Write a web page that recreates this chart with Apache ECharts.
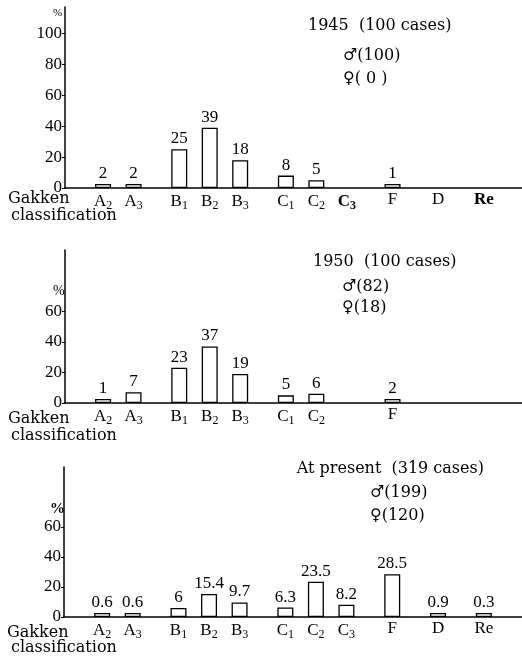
<!DOCTYPE html>
<html><head><meta charset="utf-8">
<script src="https://cdn.jsdelivr.net/npm/echarts@6/dist/echarts.min.js"></script>
<style>html,body{margin:0;padding:0;background:#fff}#c{width:522px;height:660px}</style>
</head><body><div id="c"></div><script>
// ---- data ----
const classGroups = [['A2','A3'],['B1','B2','B3'],['C1','C2','C3'],['F'],['D'],['Re']];
const cats = ['A2','A3','B1','B2','B3','C1','C2','C3','F','D','Re'];
const values1945 = [2, 2, 25, 39, 18, 8, 5, null, 1, null, null];
const values1950 = [1, 7, 23, 37, 19, 5, 6, null, 2, null, null];
const valuesPresent = [0.6, 0.6, 6, 15.4, 9.7, 6.3, 23.5, 8.2, 28.5, 0.9, 0.3];
const labels1945 = ['A2','A3','B1','B2','B3','C1','C2','C3','F','D','Re'];
const labels1950 = ['A2','A3','B1','B2','B3','C1','C2','','F','',''];
const labelsPresent = ['A2','A3','B1','B2','B3','C1','C2','C3','F','D','Re'];
const yTicksTop = [0, 20, 40, 60, 80, 100];
const yTicksLower = [0, 20, 40, 60];
const panelTitles = ['1945  (100 cases)', '1950  (100 cases)', 'At present  (319 cases)'];
const maleCounts = ['(100)', '(82)', '(199)'];
const femaleCounts = ['( 0 )', '(18)', '(120)'];
const xAxisName = ['Gakken', 'classification'];

// ---- layout of slots (group spacing) ----
const LEAD = 2, TRAIL = 2, IN_GAP = 2, GROUP_GAP = 3;
const slots = [];
let fillN = 0;
const filler = () => slots.push('_' + (fillN++));
for (let i = 0; i < LEAD; i++) filler();
classGroups.forEach((g, gi) => {
  if (gi > 0) for (let k = 0; k < GROUP_GAP - 1; k++) filler();
  g.forEach((c, ci) => {
    if (ci > 0) for (let k = 0; k < IN_GAP - 1; k++) filler();
    slots.push(c);
  });
});
for (let i = 0; i < TRAIL; i++) filler();

function slotData(vals) {
  return slots.map(s => { const i = cats.indexOf(s); return i >= 0 ? vals[i] : null; });
}

const SERIF = "'Liberation Serif', 'DejaVu Serif', serif";
const WIDE = "'DejaVu Serif', 'Liberation Serif', serif";

function catFormatter(labels, boldSet) {
  return function (v) {
    const i = cats.indexOf(v);
    if (i < 0) return '';
    const lab = labels[i];
    if (!lab) return '';
    const b = boldSet && boldSet.indexOf(lab) >= 0;
    const m = lab.match(/^([A-Z])(\d)$/);
    if (m) return '{' + (b ? 'mb' : 'm') + '|' + m[1] + '}{' + (b ? 'sb' : 's') + '|' + m[2] + '}';
    return '{' + (b ? 'mb' : 'm') + '|' + lab + '}';
  };
}
const richLab = {
  m: { fontFamily: SERIF, fontSize: 17, color: '#000' },
  mb: { fontFamily: SERIF, fontSize: 17, color: '#000', fontWeight: 'bold' },
  s: { fontFamily: SERIF, fontSize: 12, color: '#000', padding: [9, 0, 0, 0] },
  sb: { fontFamily: SERIF, fontSize: 12, color: '#000', fontWeight: 'bold', padding: [9, 0, 0, 0] }
};

const grids = [
  { left: 65, right: 0, top: 7, height: 181 },
  { left: 65, right: 0, top: 250, height: 153 },
  { left: 64, right: 0, top: 467, height: 150 }
];
const panelMax = [117, 100, 100];
const panelTicks = [yTicksTop, yTicksLower, yTicksLower];
const panelLabels = [labels1945, labels1950, labelsPresent];
const panelValues = [values1945, values1950, valuesPresent];
const panelBold = [['C3', 'Re'], [], []];

const axisLineStyle = { color: '#000', width: 1.5 };

const xAxes = grids.map((g, i) => ({
  type: 'category', gridIndex: i, data: slots, boundaryGap: true,
  axisLine: { lineStyle: axisLineStyle },
  axisTick: { show: false },
  axisLabel: { interval: 0, margin: 3, formatter: catFormatter(panelLabels[i], panelBold[i]), rich: richLab }
}));
const yAxes = grids.map((g, i) => ({
  type: 'value', gridIndex: i, min: 0, max: panelMax[i],
  splitLine: { show: false },
  axisLine: { show: true, lineStyle: axisLineStyle },
  axisTick: { show: true, length: 3, customValues: panelTicks[i], lineStyle: { color: '#000', width: 1 } },
  axisLabel: { customValues: panelTicks[i], margin: 3, fontFamily: SERIF, fontSize: 17, color: '#000' }
}));
const series = grids.map((g, i) => ({
  type: 'bar', xAxisIndex: i, yAxisIndex: i, data: slotData(panelValues[i]),
  barWidth: 16, barMinHeight: 4,
  itemStyle: { color: '#fff', borderColor: '#000', borderWidth: 1.3 },
  label: { show: true, position: 'top', distance: 2, fontFamily: SERIF, fontSize: 17, color: '#000' },
  silent: true, animation: false
}));

const titlePos = [
  { t: [308, 26], m: [343, 56], f: [343, 79], align: 'left' },
  { t: [313, 262], m: [342, 287], f: [342, 308], align: 'left' },
  { t: [484, 469], m: [370, 493], f: [370, 516], align: 'right' }
];
const namePos = [[8, 199, 11, 216], [8, 419, 11, 436], [7, 633, 11, 648]];
const pctPos = [[53, 13, 11, 'normal'], [53, 291, 14, 'normal'], [50, 509, 15, 'bold']];

const graphic = [];
function txt(x, y, text, size, family, align, weight) {
  graphic.push({ type: 'text', x: x, y: y, silent: true,
    style: { text: text, fontSize: size, fontFamily: family, fontWeight: weight || 'normal', fill: '#000',
      textAlign: align || 'left', textVerticalAlign: 'middle' } });
}
titlePos.forEach((p, i) => {
  txt(p.t[0], p.t[1], panelTitles[i], 16, WIDE, p.align);
  txt(p.m[0], p.m[1], '\u2642' + maleCounts[i], 16, WIDE);
  txt(p.f[0], p.f[1], '\u2640' + femaleCounts[i], 16, WIDE);
});
namePos.forEach(p => {
  txt(p[0], p[1], xAxisName[0], 16, WIDE);
  txt(p[2], p[3], xAxisName[1], 16, WIDE);
});
pctPos.forEach(p => txt(p[0], p[1], '%', p[2], SERIF, 'left', p[3]));

const chart = echarts.init(document.getElementById('c'), null, { renderer: 'canvas' });
chart.setOption({
  animation: false, backgroundColor: '#fff',
  grid: grids, xAxis: xAxes, yAxis: yAxes, series: series, graphic: graphic
});
</script></body></html>
